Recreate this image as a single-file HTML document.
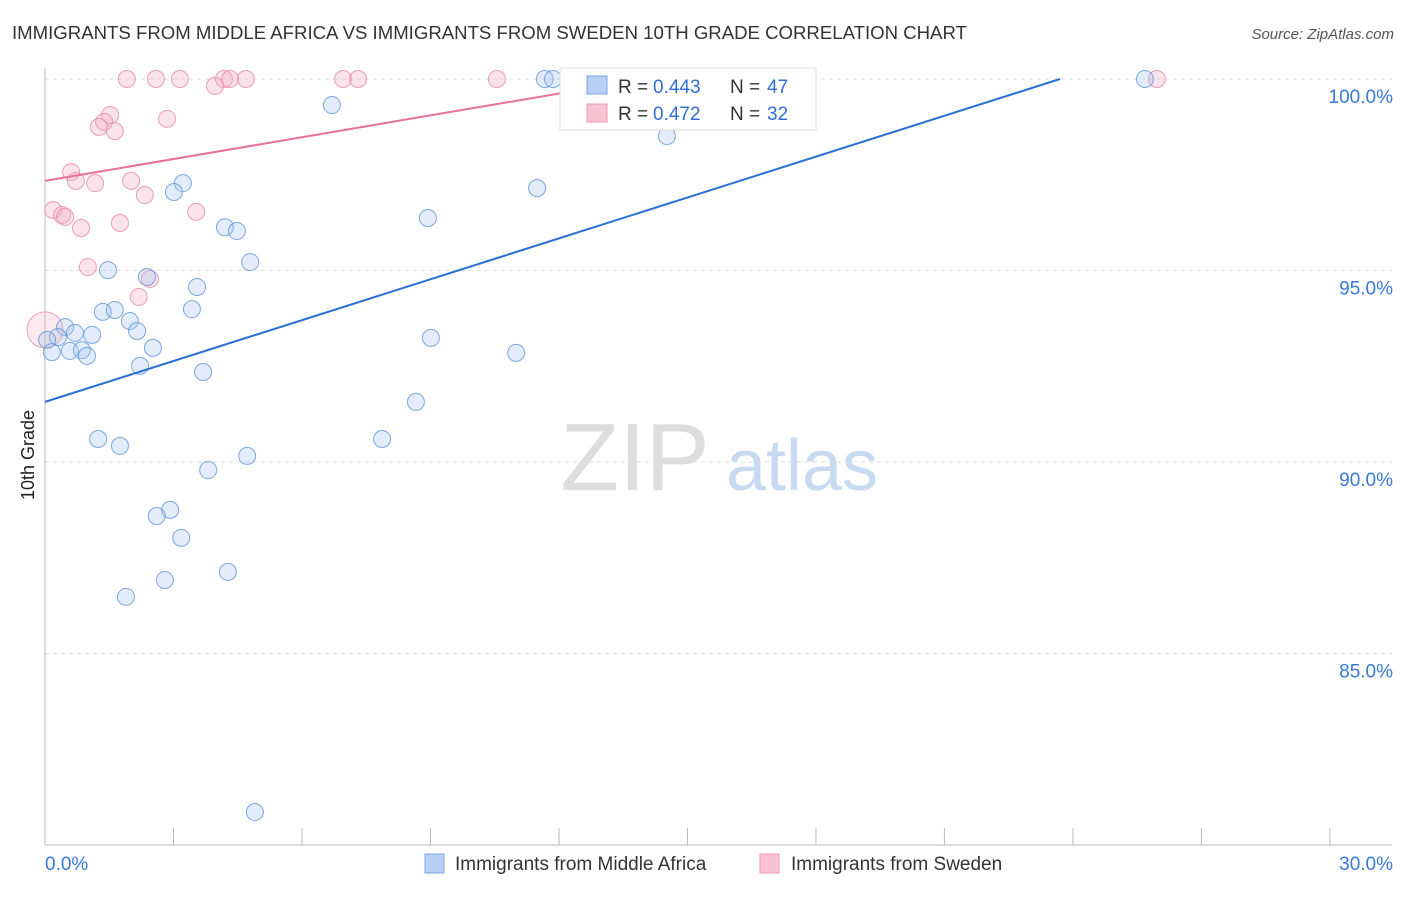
<!DOCTYPE html>
<html><head><meta charset="utf-8"><style>
body{margin:0;background:#fff;font-family:"Liberation Sans",sans-serif}
svg text{font-family:"Liberation Sans",sans-serif}
</style></head><body>
<svg id="c" width="1406" height="892" xmlns="http://www.w3.org/2000/svg">
<text x="12" y="39" font-size="18.6" fill="#333">IMMIGRANTS FROM MIDDLE AFRICA VS IMMIGRANTS FROM SWEDEN 10TH GRADE CORRELATION CHART</text>
<text x="1394" y="39" font-size="15" fill="#555" text-anchor="end" font-style="italic">Source: ZipAtlas.com</text>
<g><text x="635" y="490" font-size="96" font-family="Liberation Serif" fill="#ddd" text-anchor="middle">ZIP</text><text x="802" y="490" font-size="72" fill="#c8daf2" text-anchor="middle">atlas</text></g>
<g id="grid"></g><g id="axes"></g><g id="marks"></g>
<text transform="translate(34,455) rotate(-90)" font-size="18" fill="#222" text-anchor="middle">10th Grade</text>
<g>
<rect x="560" y="68" width="256" height="62" fill="#fff" stroke="#ddd"/>
<rect x="587" y="76" width="20" height="18" fill="#b8d0f4" stroke="#7aa6e4"/>
<text x="618" y="93" font-size="19" fill="#333">R =</text><text x="653" y="93" font-size="19" fill="#2f6fd6">0.443</text>
<text x="730" y="93" font-size="19" fill="#333">N =</text><text x="767" y="93" font-size="19" fill="#2f6fd6">47</text>
<rect x="587" y="104" width="20" height="18" fill="#f8c4d4" stroke="#ec98b4"/>
<text x="618" y="120" font-size="19" fill="#333">R =</text><text x="653" y="120" font-size="19" fill="#2f6fd6">0.472</text>
<text x="730" y="120" font-size="19" fill="#333">N =</text><text x="767" y="120" font-size="19" fill="#2f6fd6">32</text>
</g>
<g>
<rect x="425" y="854" width="19" height="19" fill="#b8d0f4" stroke="#7aa6e4"/>
<text x="455" y="870" font-size="19" fill="#333">Immigrants from Middle Africa</text>
<rect x="760" y="854" width="19" height="19" fill="#f8c4d4" stroke="#ec98b4"/>
<text x="791" y="870" font-size="19" fill="#333">Immigrants from Sweden</text>
</g>
</svg>
<script>
const blueX=[25.68,11.67,11.86,6.70,14.52,11.49,3.22,3.01,8.94,4.20,4.48,4.79,1.47,2.38,3.55,1.35,1.63,3.43,1.98,2.15,0.47,0.70,1.10,0.30,0.05,0.16,0.58,0.86,0.98,2.52,2.22,9.01,11.00,3.69,8.66,1.24,1.75,7.87,4.72,3.81,2.92,2.61,3.18,4.27,2.80,1.89,4.90];
const blueY=[100,100,100,99.32,98.51,97.15,97.28,97.05,96.37,96.13,96.03,95.22,95.01,94.83,94.57,93.92,93.97,93.99,93.68,93.42,93.52,93.37,93.32,93.26,93.19,92.87,92.90,92.92,92.77,92.98,92.51,93.24,92.85,92.35,91.57,90.60,90.42,90.60,90.16,89.79,88.75,88.59,88.02,87.13,86.92,86.48,80.86];
const pinkX=[1.91,2.59,3.15,4.18,4.32,4.69,6.96,7.31,10.55,12.68,25.96,3.97,1.52,1.38,1.26,1.63,2.85,0.61,0.72,1.17,2.01,2.33,0.19,0.40,0.47,0.84,1.75,3.53,1.00,2.19,2.45,0.0];
const pinkY=[100,100,100,100,100,100,100,100,100,100,100,99.82,99.06,98.88,98.75,98.64,98.96,97.57,97.34,97.28,97.34,96.97,96.58,96.45,96.40,96.11,96.24,96.53,95.09,94.31,94.78,93.45];
const yTicks=[100,95,90,85];
const yTickLabels=["100.0%","95.0%","90.0%","85.0%"];
const xTicks=[0,3,6,9,12,15,18,21,24,27,30];
const xTickLabels=["0.0%","30.0%"];
const blueTrend=[0,91.57,23.7,100];
const pinkTrend=[0,97.34,14.0,100];
const NS="http://www.w3.org/2000/svg";
const sx=v=>45+v*42.83, sy=v=>79+(100-v)*38.3;
function mk(t,a,p){const e=document.createElementNS(NS,t);for(const k in a)e.setAttribute(k,a[k]);p.appendChild(e);return e;}
const grid=document.getElementById('grid'),axes=document.getElementById('axes'),marks=document.getElementById('marks');
yTicks.forEach((v,i)=>{
 const l=mk('line',{x1:45,x2:1392,y1:sy(v),y2:sy(v),stroke:'#ddd','stroke-dasharray':'4,4'},grid);
 
 
 const t=mk('text',{x:1393,y:sy(v)+24,'font-size':19,fill:'#3a78d8','text-anchor':'end'},axes);t.textContent=yTickLabels[i];
 
 
});
const ax=mk('line',{x1:45,x2:45,y1:68,y2:845,stroke:'#bbb'},axes);


const bx=mk('line',{x1:45,x2:1392,y1:845,y2:845,stroke:'#bbb'},axes);


xTicks.forEach(v=>{const t=mk('line',{x1:sx(v),x2:sx(v),y1:828,y2:845,stroke:'#bbb'},axes);
 
 });
[[0,'start',45],[30,'end',1393]].forEach((d,i)=>{const t=mk('text',{x:d[2],y:870,'font-size':19,fill:'#3a78d8','text-anchor':d[1]},axes);t.textContent=xTickLabels[i];
 
 });
function pts(X,Y,fill,stroke,name){X.forEach((x,i)=>{const big=(name==='pink-point'&&i===X.length-1);
 const c=mk('circle',{cx:sx(x),cy:sy(Y[i]),r:big?18:8.5,fill:fill,'fill-opacity':big?0.25:0.32,stroke:stroke,'stroke-opacity':0.8,'stroke-width':1},marks);
 
 });}
pts(pinkX,pinkY,'#f4a8c0','#e68aa8','pink-point');
pts(blueX,blueY,'#a6c4ee','#5f94dc','blue-point');
const bl=mk('line',{x1:sx(blueTrend[0]),y1:sy(blueTrend[1]),x2:sx(blueTrend[2]),y2:sy(blueTrend[3]),stroke:'#2a6fd4','stroke-width':2},marks);


const pl=mk('line',{x1:sx(pinkTrend[0]),y1:sy(pinkTrend[1]),x2:sx(pinkTrend[2]),y2:sy(pinkTrend[3]),stroke:'#e8709a','stroke-width':2},marks);


</script>
</body></html>
